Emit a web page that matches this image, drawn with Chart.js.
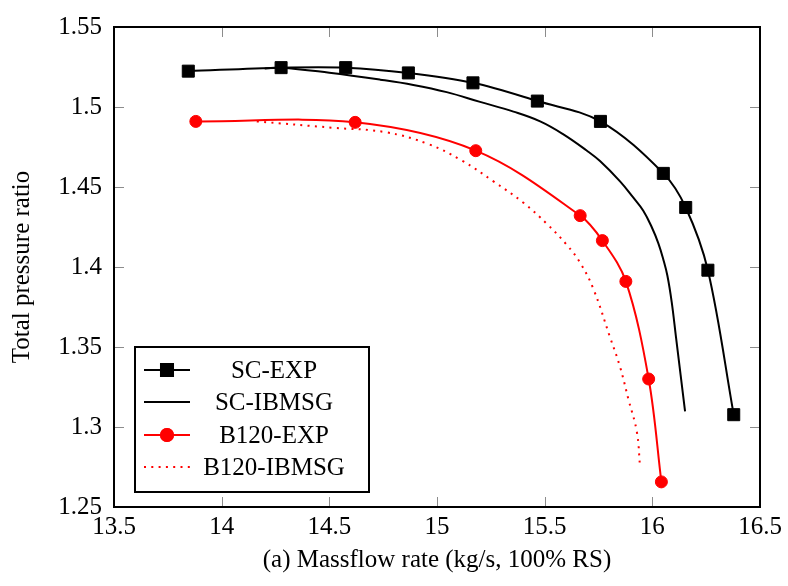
<!DOCTYPE html>
<html>
<head>
<meta charset="utf-8">
<title>Total pressure ratio vs massflow</title>
<script src="https://cdn.jsdelivr.net/npm/chart.js@4.4.0/dist/chart.umd.min.js"></script>
<style>
  html, body { margin: 0; padding: 0; background: #fff; }
  #wrap { width: 788px; height: 586px; }
</style>
</head>
<body>
<div id="wrap"><canvas id="chart" width="788" height="586"></canvas></div>
<script>
// compressor map at 100% RS: measured points and IBMSG predictions
const scExpX   = [13.845, 14.276, 14.576, 14.867, 15.167, 15.466, 15.759, 16.051, 16.155, 16.258, 16.378];
const scExpY   = [1.5224, 1.5246, 1.5246, 1.5213, 1.5151, 1.5037, 1.4910, 1.4585, 1.4372, 1.3980, 1.3077];

const scSimX   = [14.20, 14.276, 14.50, 14.736, 14.89, 15.045, 15.20, 15.355, 15.479, 15.587, 15.695, 15.757, 15.85, 15.912, 15.958, 15.997, 16.028, 16.051, 16.07, 16.09, 16.11, 16.152];
const scSimY   = [1.5240, 1.5246, 1.5214, 1.5171, 1.5138, 1.5093, 1.5032, 1.4971, 1.4910, 1.4829, 1.4728, 1.4662, 1.4535, 1.4433, 1.4352, 1.4250, 1.4148, 1.4047, 1.3945, 1.3780, 1.3560, 1.3098];

const b120ExpX = [13.88, 14.62, 15.18, 15.665, 15.768, 15.877, 15.983, 16.042];
const b120ExpY = [1.4910, 1.4904, 1.4727, 1.4321, 1.4165, 1.3910, 1.3300, 1.2657];

const b120SimX = [14.163, 14.519, 14.759, 14.96, 15.115, 15.262, 15.401, 15.51, 15.603, 15.665, 15.726, 15.804, 15.85, 15.889, 15.928, 15.943];
const b120SimY = [1.4910, 1.4870, 1.4843, 1.4768, 1.4666, 1.4535, 1.4402, 1.4270, 1.4138, 1.4026, 1.3864, 1.3559, 1.3376, 1.3173, 1.2970, 1.2750];

const xTicks = [13.5, 14, 14.5, 15, 15.5, 16, 16.5];
const yTicks = [1.25, 1.3, 1.35, 1.4, 1.45, 1.5, 1.55];

const FONT = 'Liberation Serif';

function pts(xs, ys) {
  return xs.map((x, i) => ({ x, y: ys[i] }));
}

// pgfplots-like frame: black box, short grey ticks pointing inwards on all sides
const framePlugin = {
  id: 'frame',
  afterDraw(chart) {
    const { ctx, chartArea: a, scales } = chart;
    const len = 10;
    ctx.save();
    ctx.strokeStyle = '#8c8c8c';
    ctx.lineWidth = 1;
    ctx.beginPath();
    scales.x.ticks.forEach(t => {
      const px = Math.round(scales.x.getPixelForValue(t.value)) + 0.5;
      ctx.moveTo(px, a.bottom); ctx.lineTo(px, a.bottom - len);
      ctx.moveTo(px, a.top); ctx.lineTo(px, a.top + len);
    });
    scales.y.ticks.forEach(t => {
      const py = Math.round(scales.y.getPixelForValue(t.value)) + 0.5;
      ctx.moveTo(a.left, py); ctx.lineTo(a.left + len, py);
      ctx.moveTo(a.right, py); ctx.lineTo(a.right - len, py);
    });
    ctx.stroke();
    ctx.strokeStyle = '#000';
    ctx.lineWidth = 2;
    ctx.strokeRect(a.left, a.top, a.right - a.left, a.bottom - a.top);
    ctx.restore();
  }
};

// boxed legend in the lower-left corner, labels centred
const legendPlugin = {
  id: 'boxLegend',
  afterDraw(chart) {
    const { ctx, chartArea: a } = chart;
    const bx = a.left + 21, bw = 234, bh = 145;
    const by = a.bottom - 15 - bh;
    ctx.save();
    ctx.fillStyle = '#fff';
    ctx.fillRect(bx, by, bw, bh);
    ctx.strokeStyle = '#000';
    ctx.lineWidth = 2;
    ctx.strokeRect(bx, by, bw, bh);
    const rows = [23, 55, 88, 120];
    chart.data.datasets.forEach((ds, i) => {
      const y = by + rows[i];
      const x0 = bx + 9, x1 = bx + 55;
      ctx.strokeStyle = ds.borderColor;
      ctx.lineWidth = ds.borderWidth;
      ctx.setLineDash(ds.borderDash || []);
      ctx.beginPath();
      ctx.moveTo(x0, y); ctx.lineTo(x1, y);
      ctx.stroke();
      ctx.setLineDash([]);
      if (ds.pointRadius > 0) {
        Chart.helpers.drawPoint(ctx, {
          pointStyle: ds.pointStyle,
          radius: ds.pointRadius,
          borderWidth: 1,
          rotation: 0
        }, (x0 + x1) / 2, y);
        ctx.fillStyle = ds.backgroundColor;
        ctx.strokeStyle = ds.borderColor;
        ctx.fill();
        ctx.stroke();
      }
      ctx.fillStyle = '#000';
      ctx.font = '25px "' + FONT + '"';
      ctx.textAlign = 'center';
      ctx.textBaseline = 'middle';
      ctx.fillText(ds.label, bx + 139, y + 1);
    });
    ctx.restore();
  }
};

new Chart(document.getElementById('chart'), {
  type: 'line',
  data: {
    datasets: [
      {
        label: 'SC-EXP',
        data: pts(scExpX, scExpY),
        borderColor: '#000', backgroundColor: '#000',
        borderWidth: 2, pointStyle: 'rect', pointRadius: 8.5, pointBorderWidth: 1,
        tension: 0.35
      },
      {
        label: 'SC-IBMSG',
        data: pts(scSimX, scSimY),
        borderColor: '#000', backgroundColor: '#000',
        borderWidth: 2, pointRadius: 0,
        tension: 0.4
      },
      {
        label: 'B120-EXP',
        data: pts(b120ExpX, b120ExpY),
        borderColor: '#ff0000', backgroundColor: '#ff0000',
        borderWidth: 2, pointStyle: 'circle', pointRadius: 6, pointBorderWidth: 1,
        tension: 0.35
      },
      {
        label: 'B120-IBMSG',
        data: pts(b120SimX, b120SimY),
        borderColor: '#ff0000', backgroundColor: '#ff0000',
        borderWidth: 2, borderDash: [2, 5.3], pointRadius: 0,
        tension: 0.4
      }
    ]
  },
  options: {
    responsive: false,
    animation: false,
    devicePixelRatio: 1,
    layout: { padding: { top: 15, right: 28, left: 0, bottom: 0 } },
    plugins: { legend: { display: false }, tooltip: { enabled: false } },
    scales: {
      x: {
        type: 'linear',
        min: 13.5, max: 16.5,
        afterBuildTicks: s => { s.ticks = xTicks.map(v => ({ value: v })); },
        afterFit: s => { s.height = 79; },
        grid: { display: false, drawTicks: false },
        border: { display: false },
        ticks: {
          color: '#000', padding: 5, maxRotation: 0, autoSkip: false,
          font: { family: FONT, size: 25 },
          callback: v => String(Number(v.toFixed(2)))
        },
        title: {
          display: true, text: '(a) Massflow rate (kg/s, 100% RS)', color: '#000',
          font: { family: FONT, size: 25 }, padding: { top: 0, bottom: 11 }
        }
      },
      y: {
        type: 'linear',
        min: 1.25, max: 1.55,
        afterBuildTicks: s => { s.ticks = yTicks.map(v => ({ value: v })); },
        afterFit: s => { s.width = 114; },
        grid: { display: false, drawTicks: false },
        border: { display: false },
        ticks: {
          color: '#000', padding: 12, autoSkip: false,
          font: { family: FONT, size: 25 },
          callback: v => String(Number(v.toFixed(2)))
        },
        title: {
          display: true, text: 'Total pressure ratio', color: '#000',
          font: { family: FONT, size: 25 }, padding: { top: 7, bottom: 0 }
        }
      }
    }
  },
  plugins: [framePlugin, legendPlugin]
});
</script>
</body>
</html>
